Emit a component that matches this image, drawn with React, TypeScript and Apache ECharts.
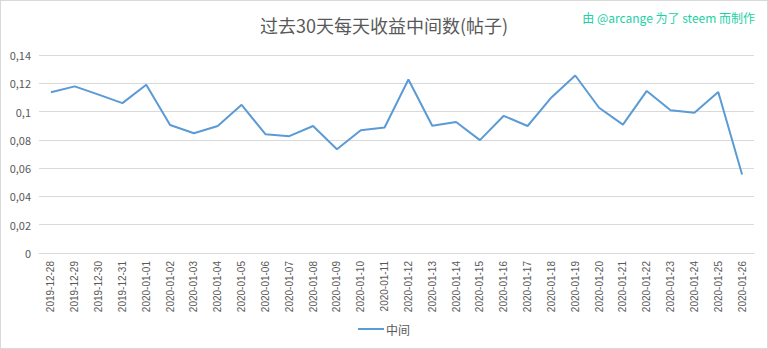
import React, { useEffect, useRef } from "react";
import * as echarts from "echarts";

const categories = [
  "2019-12-28", "2019-12-29", "2019-12-30", "2019-12-31", "2020-01-01",
  "2020-01-02", "2020-01-03", "2020-01-04", "2020-01-05", "2020-01-06",
  "2020-01-07", "2020-01-08", "2020-01-09", "2020-01-10", "2020-01-11",
  "2020-01-12", "2020-01-13", "2020-01-14", "2020-01-15", "2020-01-16",
  "2020-01-17", "2020-01-18", "2020-01-19", "2020-01-20", "2020-01-21",
  "2020-01-22", "2020-01-23", "2020-01-24", "2020-01-25", "2020-01-26",
];

const medianValues = [
  0.1136, 0.1178, 0.112, 0.106, 0.119,
  0.0905, 0.0847, 0.0898, 0.1048, 0.084,
  0.0826, 0.0898, 0.0733, 0.0868, 0.0887,
  0.1227, 0.09, 0.0926, 0.0798, 0.097,
  0.0898, 0.11, 0.1255, 0.1027, 0.0908,
  0.1146, 0.101, 0.0992, 0.1139, 0.0555,
];

const seriesName = "中间";
const titleText = "过去30天每天收益中间数(帖子)";
const creditText = "由 @arcange 为了 steem 而制作";

const FONT = "'Noto Sans CJK SC', 'Noto Sans', sans-serif";

export default function App() {
  const ref = useRef<HTMLDivElement>(null);
  useEffect(() => {
    if (!ref.current) return;
    const chart = echarts.init(ref.current, undefined, { renderer: "svg" });
    chart.setOption({
      animation: false,
      backgroundColor: "#ffffff",
      title: {
        text: titleText,
        left: "center",
        top: 10,
        textStyle: { color: "#595959", fontSize: 18, fontWeight: "normal", fontFamily: FONT },
      },
      graphic: [
        {
          type: "text",
          right: 12,
          top: 10,
          style: { text: creditText, fill: "#1bd1a5", fontSize: 12, fontFamily: FONT },
        },
      ],
      legend: {
        bottom: 8,
        left: "center",
        itemWidth: 26,
        itemHeight: 2,
        icon: "rect",
        itemGap: 4,
        textStyle: { color: "#595959", fontSize: 12, fontFamily: FONT, padding: [0, 0, 0, -3] },
        data: [seriesName],
      },
      grid: { left: 38, right: 13, top: 54, bottom: 95, containLabel: false },
      xAxis: {
        type: "category",
        data: categories,
        boundaryGap: true,
        axisLine: { show: true, lineStyle: { color: "#d9d9d9" } },
        axisTick: { show: false },
        axisLabel: {
          rotate: 90,
          interval: 0,
          color: "#595959",
          fontSize: 10,
          fontFamily: "'Liberation Sans', sans-serif",
          margin: 8,
        },
      },
      yAxis: {
        type: "value",
        min: 0,
        max: 0.14,
        interval: 0.02,
        axisLine: { show: false },
        axisTick: { show: false },
        splitLine: { lineStyle: { color: "#d9d9d9", width: 1 } },
        axisLabel: {
          color: "#595959",
          fontSize: 11,
          fontFamily: FONT,
          margin: 8,
          formatter: (v: number) => (v === 0 ? "0" : String(Number(v.toFixed(2))).replace(".", ",")),
        },
      },
      series: [
        {
          name: seriesName,
          type: "line",
          data: medianValues,
          symbol: "none",
          lineStyle: { color: "#5b9bd5", width: 2 },
          itemStyle: { color: "#5b9bd5" },
        },
      ],
    });
    return () => chart.dispose();
  }, []);
  return (
    <div
      ref={ref}
      style={{
        position: "fixed",
        left: 0,
        top: 0,
        width: 768,
        height: 349,
        boxSizing: "border-box",
        border: "1px solid #d9d9d9",
        background: "#fff",
      }}
    />
  );
}
